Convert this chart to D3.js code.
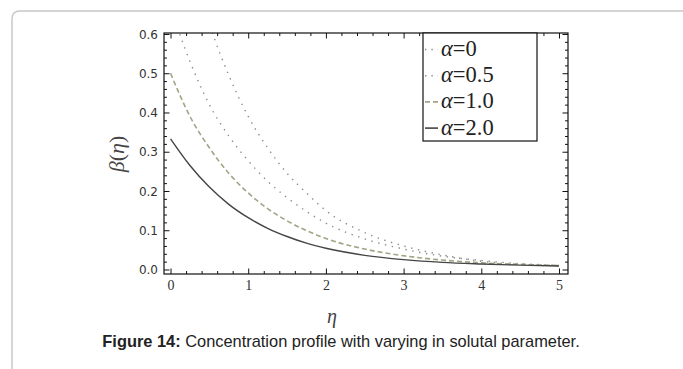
<!DOCTYPE html>
<html>
<head>
<meta charset="utf-8">
<script src="https://cdn.jsdelivr.net/npm/d3@7"></script>
<style>
  html, body { margin: 0; padding: 0; background: #fff; }
  svg { display: block; }
</style>
</head>
<body>
<svg id="chart" width="683" height="369"></svg>
<script>
// ---- data ----
const eta = [0, 0.25, 0.5, 0.75, 1, 1.25, 1.5, 1.75, 2, 2.5, 3, 3.5, 4, 4.5, 5];
const alpha0  = [1.00, 0.79, 0.625, 0.495, 0.39, 0.31, 0.245, 0.195, 0.150, 0.094, 0.060, 0.037, 0.021, 0.013, 0.009];
const alpha05 = [0.667, 0.53, 0.42, 0.34, 0.277, 0.225, 0.183, 0.148, 0.118, 0.078, 0.052, 0.034, 0.023, 0.015, 0.011];
const alpha1  = [0.50, 0.39, 0.31, 0.245, 0.195, 0.155, 0.124, 0.099, 0.079, 0.052, 0.035, 0.024, 0.017, 0.013, 0.010];
const alpha2  = [0.333, 0.265, 0.21, 0.166, 0.132, 0.105, 0.084, 0.067, 0.054, 0.036, 0.025, 0.018, 0.014, 0.011, 0.009];
const seriesNames = ["0", "0.5", "1.0", "2.0"];
const xTickLabels = [0, 1, 2, 3, 4, 5];
const yTickLabels = [0.0, 0.1, 0.2, 0.3, 0.4, 0.5, 0.6];
const captionBold = "Figure 14:";
const captionText = " Concentration profile with varying in solutal parameter.";

const series = [
  { name: seriesNames[0], values: alpha0,  stroke: "#8c8c8c", width: 1.4, dash: "1.4,5.6" },
  { name: seriesNames[1], values: alpha05, stroke: "#8c8c8c", width: 1.4, dash: "1.4,5.6" },
  { name: seriesNames[2], values: alpha1,  stroke: "#a3a386", width: 1.6, dash: "5,3" },
  { name: seriesNames[3], values: alpha2,  stroke: "#454545", width: 1.4, dash: null }
];

const svg = d3.select("#chart");

// card border
svg.append("path")
  .attr("d", "M12,369 L12,19 Q12,11 20,11 L683,11")
  .attr("fill", "none").attr("stroke", "#c8c8c8").attr("stroke-width", 1.5);

const L = 164, R = 568, T = 33, B = 274;
const x = d3.scaleLinear().domain([-0.084, 5.116]).range([L, R]);
const y = d3.scaleLinear().domain([-0.0115, 0.6025]).range([B, T]);

// clip
svg.append("clipPath").attr("id", "plotclip")
  .append("rect").attr("x", L).attr("y", T).attr("width", R - L).attr("height", B - T);

const line = d3.line().x((d, i) => x(eta[i])).y(d => y(d)).curve(d3.curveMonotoneX);

const g = svg.append("g").attr("clip-path", "url(#plotclip)");
series.forEach(s => {
  g.append("path")
    .attr("d", line(s.values))
    .attr("fill", "none")
    .attr("stroke", s.stroke)
    .attr("stroke-width", s.width)
    .attr("stroke-dasharray", s.dash);
});

// frame axes with inward ticks
const xMajor = xTickLabels;
const xMinor = d3.range(0, 5.0001, 0.2).filter(v => Math.abs(v - Math.round(v)) > 1e-6);
const yMajor = yTickLabels;
const yMinor = d3.range(0, 0.6001, 0.02).filter(v => Math.abs(v * 10 - Math.round(v * 10)) > 1e-6);

function frameAxis(axisFn, scale, major, minor, transform, showLabels) {
  const ga = svg.append("g").attr("transform", transform);
  ga.call(axisFn(scale).tickValues(minor).tickSize(-3).tickFormat(""));
  const gm = svg.append("g").attr("transform", transform);
  gm.call(axisFn(scale).tickValues(major).tickSize(-5.5).tickFormat(showLabels ? showLabels : ""));
  [ga, gm].forEach(a => {
    a.select(".domain").remove();
    a.selectAll(".tick line").attr("stroke", "#111").attr("stroke-width", 1);
  });
  return gm;
}

const bx = frameAxis(d3.axisBottom, x, xMajor, xMinor, `translate(0,${B})`, d => d3.format("d")(d));
bx.selectAll(".tick text")
  .attr("y", 6).attr("dy", "0.71em")
  .attr("font-family", "Liberation Serif, serif").attr("font-size", 14).attr("fill", "#333");
frameAxis(d3.axisTop, x, xMajor, xMinor, `translate(0,${T})`, null);
const ly = frameAxis(d3.axisLeft, y, yMajor, yMinor, `translate(${L},0)`, d => d3.format(".1f")(d));
ly.selectAll(".tick text")
  .attr("x", -6).attr("dy", "0.35em")
  .attr("font-family", "DejaVu Sans, sans-serif").attr("font-size", 12).attr("fill", "#333");
frameAxis(d3.axisRight, y, yMajor, yMinor, `translate(${R},0)`, null);

// frame
svg.append("rect").attr("x", L).attr("y", T).attr("width", R - L).attr("height", B - T)
  .attr("fill", "none").attr("stroke", "#111").attr("stroke-width", 1.2);

// legend
const lg = svg.append("g");
lg.append("rect").attr("x", 423).attr("y", T).attr("width", 114).attr("height", 108)
  .attr("fill", "#fff").attr("stroke", "#111").attr("stroke-width", 1.2);
series.forEach((s, i) => {
  const cy = 48.5 + i * 26.2;
  lg.append("line").attr("x1", 425).attr("x2", 438).attr("y1", cy + 1).attr("y2", cy + 1)
    .attr("stroke", s.stroke).attr("stroke-width", s.width + 0.2)
    .attr("stroke-dasharray", s.dash ? (s.dash === "5,3" ? "5,3" : "1.4,5") : null);
  const t = lg.append("text").attr("x", 441).attr("y", cy + 7.5)
    .attr("font-family", "Liberation Serif, serif").attr("font-size", 22.5).attr("fill", "#222");
  t.append("tspan").attr("font-style", "italic").text("α");
  t.append("tspan").text("=" + s.name);
});

// axis labels
const yl = svg.append("text")
  .attr("transform", "translate(124,154) rotate(-90)")
  .attr("text-anchor", "middle")
  .attr("font-family", "Liberation Serif, serif").attr("font-size", 22).attr("fill", "#444");
yl.append("tspan").attr("font-style", "italic").text("β");
yl.append("tspan").text("(");
yl.append("tspan").attr("font-style", "italic").text("η");
yl.append("tspan").text(")");

svg.append("text").attr("x", 332).attr("y", 323).attr("text-anchor", "middle")
  .attr("font-family", "Liberation Serif, serif").attr("font-size", 20).attr("font-style", "italic")
  .attr("fill", "#444").text("η");

// caption
const cap = svg.append("text").attr("x", 341).attr("y", 347).attr("text-anchor", "middle")
  .attr("font-family", "Liberation Sans, Arial, sans-serif").attr("font-size", 16.4).attr("fill", "#222");
cap.append("tspan").attr("font-weight", "bold").text(captionBold);
cap.append("tspan").text(captionText);
</script>
</body>
</html>
